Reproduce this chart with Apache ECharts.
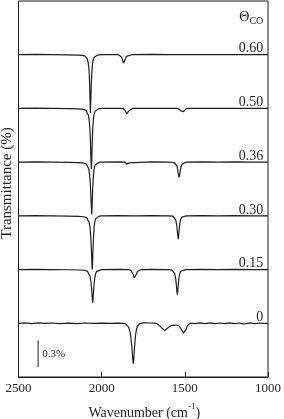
<!DOCTYPE html>
<html>
<head>
<meta charset="utf-8">
<script src="https://cdn.jsdelivr.net/npm/echarts@6/dist/echarts.min.js"></script>
<style>
html,body{margin:0;padding:0;background:#fff;}
#c{width:284px;height:419px;}
</style>
</head>
<body>
<div id="c"></div>
<script>
// Coverage labels and vertical offsets (%) of each spectrum
var coverages = ['0.60', '0.50', '0.36', '0.30', '0.15', '0'];
var offsets = [3.6, 3.0, 2.4, 1.8, 1.2, 0.6];

// Spectra: [wavenumber (cm-1), relative transmittance change (%)]
var spec060 = [[2500,0],[2400,0.004],[2300,0.002],[2200,-0.002],[2140,-0.004],[2115,-0.008],[2100,-0.015],[2092,-0.028],[2086,-0.05],[2081,-0.09],[2077,-0.15],[2074,-0.24],[2072,-0.35],[2070,-0.5],[2068,-0.65],[2066,-0.56],[2064,-0.43],[2062,-0.31],[2059,-0.2],[2056,-0.12],[2052,-0.065],[2046,-0.03],[2038,-0.012],[2025,-0.004],[2000,0],[1950,0.002],[1900,0],[1888,-0.008],[1880,-0.025],[1874,-0.06],[1869,-0.095],[1866,-0.11],[1862,-0.085],[1857,-0.045],[1851,-0.018],[1842,-0.005],[1820,0],[1700,0.003],[1600,0],[1500,0.002],[1400,0],[1300,0.002],[1200,0],[1100,0.001],[1000,0]];
var spec050 = [[2500,0],[2400,0.003],[2300,0],[2200,-0.003],[2140,-0.005],[2110,-0.01],[2094,-0.02],[2086,-0.04],[2080,-0.075],[2075,-0.13],[2071,-0.22],[2068,-0.34],[2066,-0.46],[2064,-0.58],[2062,-0.68],[2060,-0.6],[2058,-0.47],[2056,-0.34],[2053,-0.21],[2050,-0.13],[2046,-0.07],[2040,-0.033],[2032,-0.013],[2020,-0.004],[2000,0],[1900,0.002],[1870,0],[1862,-0.012],[1855,-0.035],[1849,-0.062],[1846,-0.07],[1842,-0.055],[1836,-0.025],[1828,-0.008],[1815,0],[1700,0.002],[1600,0],[1540,0],[1530,-0.01],[1522,-0.028],[1516,-0.042],[1512,-0.045],[1508,-0.035],[1502,-0.015],[1494,-0.004],[1480,0],[1400,0.002],[1300,0],[1200,0.002],[1100,0],[1000,0]];
var spec036 = [[2500,0],[2400,0.002],[2300,0],[2200,-0.002],[2140,-0.005],[2110,-0.01],[2092,-0.02],[2084,-0.04],[2078,-0.075],[2073,-0.13],[2069,-0.22],[2066,-0.33],[2063,-0.45],[2061,-0.54],[2060,-0.58],[2058,-0.52],[2056,-0.41],[2054,-0.3],[2051,-0.19],[2048,-0.115],[2044,-0.06],[2038,-0.028],[2030,-0.011],[2018,-0.003],[2000,0],[1900,0.002],[1862,0],[1855,-0.01],[1849,-0.022],[1846,-0.025],[1842,-0.02],[1836,-0.008],[1828,0],[1700,0.002],[1600,0],[1565,-0.004],[1555,-0.015],[1548,-0.04],[1543,-0.085],[1539,-0.135],[1535,-0.17],[1531,-0.14],[1527,-0.09],[1522,-0.045],[1515,-0.018],[1505,-0.005],[1490,0],[1400,0.002],[1300,0],[1200,0.002],[1100,0],[1000,0]];
var spec030 = [[2500,0],[2400,0.002],[2300,0],[2200,-0.003],[2140,-0.005],[2108,-0.01],[2090,-0.02],[2081,-0.04],[2075,-0.075],[2070,-0.13],[2066,-0.22],[2063,-0.33],[2060,-0.46],[2058,-0.56],[2057,-0.6],[2055,-0.54],[2053,-0.43],[2051,-0.32],[2048,-0.2],[2045,-0.12],[2041,-0.065],[2035,-0.03],[2027,-0.012],[2015,-0.003],[2000,0],[1900,0.002],[1800,0],[1700,0.002],[1600,0],[1572,-0.004],[1562,-0.015],[1555,-0.045],[1549,-0.1],[1545,-0.17],[1542,-0.23],[1540,-0.26],[1537,-0.22],[1534,-0.15],[1530,-0.085],[1525,-0.04],[1518,-0.015],[1508,-0.004],[1490,0],[1400,0.002],[1300,0],[1200,0.002],[1100,0],[1000,0]];
var spec015 = [[2500,0],[2400,0.002],[2300,0],[2200,-0.002],[2130,-0.005],[2100,-0.01],[2085,-0.02],[2076,-0.04],[2070,-0.075],[2065,-0.13],[2061,-0.2],[2058,-0.28],[2056,-0.34],[2054,-0.37],[2052,-0.33],[2049,-0.25],[2046,-0.17],[2042,-0.1],[2037,-0.05],[2030,-0.02],[2020,-0.006],[2000,0],[1900,0.002],[1840,0],[1825,-0.008],[1816,-0.025],[1809,-0.06],[1804,-0.095],[1800,-0.11],[1796,-0.09],[1791,-0.05],[1785,-0.02],[1776,-0.005],[1760,0],[1700,0.002],[1600,0],[1578,-0.004],[1568,-0.015],[1561,-0.045],[1555,-0.1],[1551,-0.17],[1548,-0.24],[1545,-0.28],[1542,-0.24],[1539,-0.16],[1535,-0.09],[1530,-0.045],[1523,-0.017],[1513,-0.004],[1495,0],[1400,0.002],[1300,0],[1200,0.002],[1100,0],[1000,0]];
var spec000 = [[2500,0],[2460,0.005],[2420,-0.003],[2380,0.004],[2340,-0.002],[2300,0.003],[2250,-0.004],[2200,0.002],[2150,-0.003],[2100,0.003],[2050,-0.002],[2000,0.002],[1950,-0.002],[1900,0.002],[1870,0],[1855,-0.008],[1845,-0.02],[1837,-0.045],[1830,-0.09],[1825,-0.15],[1820,-0.24],[1816,-0.33],[1813,-0.4],[1810,-0.45],[1807,-0.4],[1804,-0.31],[1800,-0.21],[1796,-0.13],[1791,-0.07],[1785,-0.03],[1778,-0.01],[1768,0],[1740,0.005],[1700,0.003],[1680,0.002],[1665,-0.008],[1650,-0.03],[1638,-0.055],[1628,-0.072],[1620,-0.08],[1610,-0.068],[1595,-0.04],[1580,-0.025],[1565,-0.02],[1550,-0.022],[1535,-0.03],[1525,-0.05],[1515,-0.085],[1508,-0.11],[1502,-0.12],[1496,-0.1],[1490,-0.06],[1484,-0.025],[1476,-0.005],[1465,0.003],[1440,-0.004],[1410,0.004],[1380,-0.003],[1350,0.004],[1320,-0.004],[1290,0.003],[1260,-0.003],[1230,0.004],[1200,-0.004],[1170,0.003],[1150,-0.006],[1140,-0.012],[1130,-0.004],[1110,0.004],[1080,-0.003],[1050,0.003],[1020,-0.002],[1000,0]];
var spectra = [spec060, spec050, spec036, spec030, spec015, spec000];

// Scale bar (0.3 %)
var scaleBarX = 2382;
var scaleBarY = [0.11, 0.41];
var scaleBarLabel = '0.3%';

// X axis
var xMin = 1000, xMax = 2500, xStep = 500;

var FONT = '"Liberation Serif", "Times New Roman", serif';
var INK = '#1e1e1e';

var chart = echarts.init(document.getElementById('c'), null, {renderer: 'canvas'});

var series = spectra.map(function (s, i) {
  return {
    type: 'line',
    data: s.map(function (p) { return [p[0], p[1] + offsets[i]]; }),
    showSymbol: false,
    symbol: 'none',
    silent: true,
    animation: false,
    lineStyle: {color: INK, width: 1.2}
  };
});
series.push({
  type: 'line',
  data: [[scaleBarX, scaleBarY[0]], [scaleBarX, scaleBarY[1]]],
  showSymbol: false,
  symbol: 'none',
  animation: false,
  lineStyle: {color: INK, width: 1}
});

var option = {
  backgroundColor: '#fff',
  animation: false,
  grid: {left: 18.5, right: 12.5, top: 1, bottom: 42, show: true, borderColor: INK, borderWidth: 1, backgroundColor: 'transparent'},
  xAxis: {
    type: 'value', inverse: true, min: xMin, max: xMax, interval: xStep,
    axisLine: {show: true, lineStyle: {color: INK, width: 1}},
    axisTick: {show: true, inside: true, length: 5, lineStyle: {color: INK}},
    axisLabel: {color: INK, fontFamily: FONT, fontSize: 13, margin: 5, formatter: function (v) { return String(v); }},
    splitLine: {show: false}
  },
  yAxis: {
    type: 'value', min: 0, max: 4.2,
    axisLine: {show: false}, axisTick: {show: false}, axisLabel: {show: false}, splitLine: {show: false}
  },
  series: series
};
chart.setOption(option);

function px(x, y) { return chart.convertToPixel({gridIndex: 0}, [x, y]); }

var graphics = [];
coverages.forEach(function (c, i) {
  var p = px(1028, offsets[i]);
  graphics.push({
    type: 'text', x: p[0], y: p[1] + 1,
    style: {text: c, fill: INK, font: '14px ' + FONT, textAlign: 'right', textVerticalAlign: 'bottom'}
  });
});
// Theta_CO header
var ph = px(1028, 4.02);
graphics.push({
  type: 'text', x: ph[0], y: ph[1],
  style: {
    text: '{t|Θ}{s|CO}', textAlign: 'right', textVerticalAlign: 'middle',
    rich: {
      t: {fontFamily: FONT, fontSize: 14, fill: INK, lineHeight: 18, verticalAlign: 'middle'},
      s: {fontFamily: FONT, fontSize: 10, fill: INK, verticalAlign: 'bottom', lineHeight: 18}
    }
  }
});
// scale bar label
var ps = px(scaleBarX, (scaleBarY[0] + scaleBarY[1]) / 2);
graphics.push({
  type: 'text', x: ps[0] + 4, y: ps[1],
  style: {text: scaleBarLabel, fill: INK, font: '11px ' + FONT, textAlign: 'left', textVerticalAlign: 'middle'}
});
// axis titles
var pb = px(1750, 0);
graphics.push({
  type: 'text', x: pb[0] + 1, y: 411,
  style: {
    text: '{a|Wavenumber (cm}{s|-1}{a|)}', textAlign: 'center', textVerticalAlign: 'middle',
    rich: {
      a: {fontFamily: FONT, fontSize: 14, fill: INK, lineHeight: 18, verticalAlign: 'bottom'},
      s: {fontFamily: FONT, fontSize: 9, fill: INK, lineHeight: 18, verticalAlign: 'top'}
    }
  }
});
graphics.push({
  type: 'text', x: 7, y: 183, rotation: Math.PI / 2,
  style: {text: 'Transmittance (%)', fill: INK, font: '15px ' + FONT, textAlign: 'center', textVerticalAlign: 'middle'}
});
chart.setOption({graphic: graphics});
</script>
</body>
</html>
